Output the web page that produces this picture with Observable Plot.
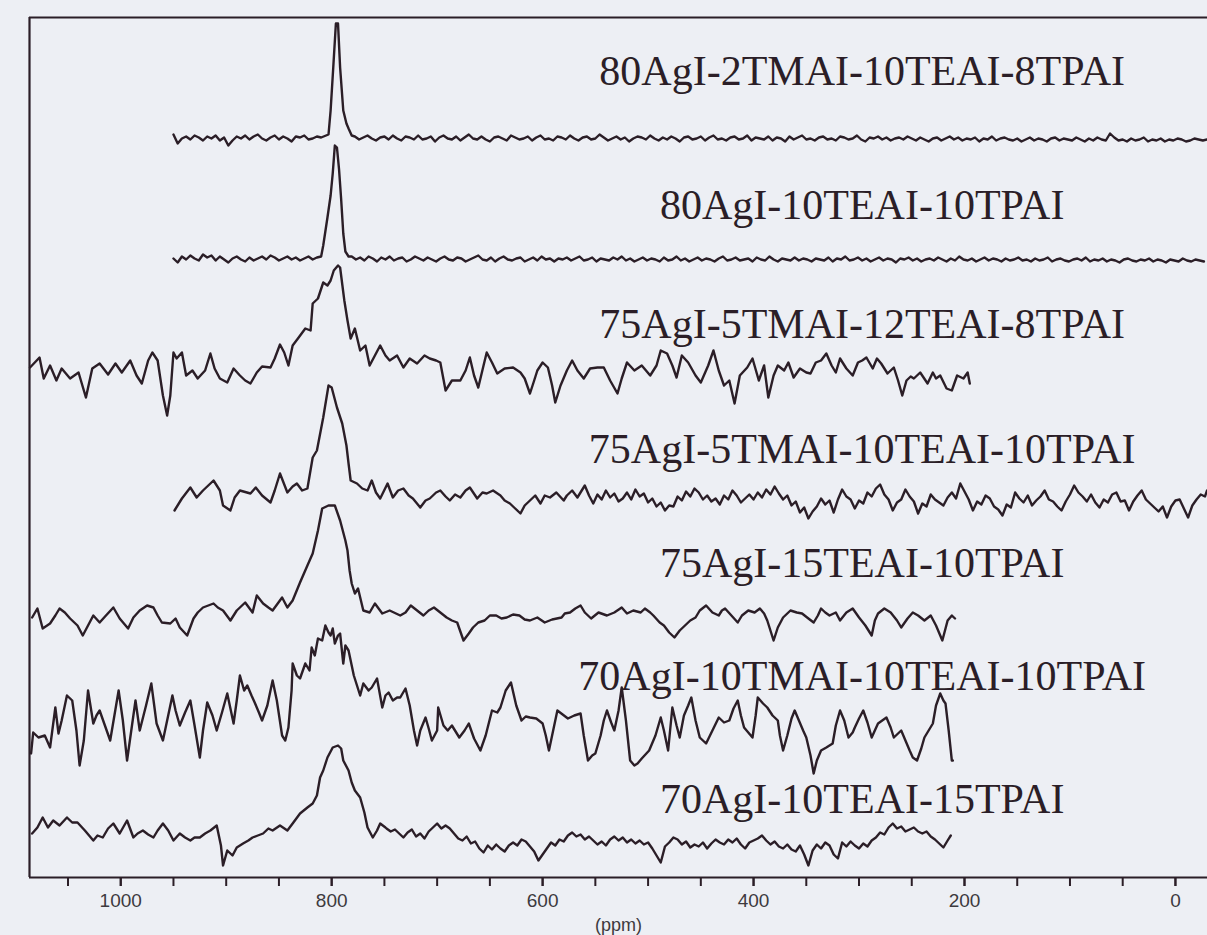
<!DOCTYPE html>
<html><head><meta charset="utf-8">
<script src="https://cdn.jsdelivr.net/npm/d3@7"></script>
<script src="https://cdn.jsdelivr.net/npm/@observablehq/plot@0.6"></script>
<style>
html,body{margin:0;padding:0;background:#edeff4;overflow:hidden}
#chart svg{display:block}
</style></head><body><div id="chart"></div>
<script>
// ---- data ----
const seriesNames = ["80AgI-2TMAI-10TEAI-8TPAI","80AgI-10TEAI-10TPAI","75AgI-5TMAI-12TEAI-8TPAI","75AgI-5TMAI-10TEAI-10TPAI","75AgI-15TEAI-10TPAI","70AgI-10TMAI-10TEAI-10TPAI","70AgI-10TEAI-15TPAI"];
const stackOffsets = [739, 618, 502, 380, 262, 157, 47];
const labelHeights = [806, 672, 553, 428, 314, 201, 78];
const labelPpm = 297;
const tickLabels = [1000, 800, 600, 400, 200, 0];
const tickMarks = [1050,1000,950,900,850,800,750,700,650,600,550,500,450,400,350,300,250,200,150,100,50,0];

// sampling positions (ppm): 4 ppm apart in the noise, finer across the narrow peaks
const s1Ppm = [...d3.range(950, 806, -4), 803, 801, 798.5, 796, 794, 792, 789, 786, 784, 781, ...d3.range(778, -31, -4)];
const s1Int = [4,-5,0,2,-1,3,1,-2,2,0, 3,-2,1,-7,-2,2,0,3,-1,2, 4,0,-2,1,3,-1,2,0,-3,2, 1,3,-1,0,2,1,
4,28,71,115,115,71,28,15,10,3,
2,-1,1,3,0,-2,1,2,-1,3, 0,-2,2,1,-1,3,-1,0,2,-3, 1,3,0,-1,2,-2,1,4,0,-1, 2,-1,-3,1,2,0,-2,3,1,-1, 0,2,-2,1,3,-1,0,-2,2,1,
-1,3,0,-2,1,2,-1,0,4,1, -2,0,2,-1,1,-3,0,2,1,-1, 3,0,-2,1,-1,2,0,-3,1,2, -1,0,2,-2,1,3,-1,0,-2,1, 2,-1,0,3,-2,1,0,-1,2,-2,
1,0,-3,2,-1,1,3,-1,0,-2, 1,2,-1,0,-2,2,1,-1,0,3, -1,-3,1,0,2,-1,1,-2,0,1, -1,2,0,-2,1,-1,-3,0,1,-2, 0,2,-1,1,-2,0,-1,1,-3,0,
-1,2,-2,0,1,-1,-2,0,-3,-1, 1,-2,0,-1,-3,0,1,-2,0,-1, -2,1,-1,-3,0,-2,1,-1,-2,5, 1,-2,-1,-3,0,-2,-1,1,-3,-1, -2,0,-3,-1,-2,0,-1,-3,-2,0,
-1,-2,-1];

const s2Ppm = [...d3.range(950, 808, -4), 808, 804, 801, 799, 797, 795, 793, 791, 789, 787, 784, 781, ...d3.range(777, -29, -4), -30];
const s2Int = [1,-3,3,0,4,1,-1,5,2,4, -1,3,0,-3,1,3,0,-2,2,-1, 1,3,0,4,2,-1,1,3,0,2, -1,1,3,0,2,
3,14,42,64,86,114,112,90,60,26,8,3,
3,0,2,-1,3,1,-2,2,0,3, -1,1,2,-2,0,3,1,-1,2,0, -2,1,3,0,-1,2,1,-2,0,2, 4,0,-1,2,-2,1,3,0,-1,1, 2,-2,0,2,-1,3,0,1,-2,1,
0,2,-1,1,3,-1,0,2,-2,1, 0,-1,2,0,3,-1,1,-2,0,2, -1,1,0,-2,2,-1,0,3,-1,1, -2,0,2,-1,1,0,-2,1,3,-1, 0,2,-1,0,1,-2,2,0,-1,3,
0,-2,1,0,-1,2,-1,1,0,-2, 1,0,-1,2,-2,1,0,3,-1,0, 2,-1,1,-2,0,2,-1,1,0,-3, 1,0,2,-1,1,-2,0,1,-1,2, 0,-2,1,-1,3,0,-1,1,-2,0,
2,-1,1,0,-2,1,-1,0,2,-1, 0,-2,1,-1,0,2,-2,0,1,-1, -2,0,1,-1,2,-2,0,-1,1,-2, 0,-1,-3,0,1,-1,-2,0,-1,1, -2,0,-1,-3,0,-1,-2,1,-1,-2,
0,-1,-2];

const s3Ppm = [1086,1077,1073,1067,1061,1056,1048,1040,1033,1027, 1020,1012,1005,999,991,985,980,974,970,965, 960,956,953,950,947,942,938,932,927,920, 915,911,906,899,893,887,882,877,871,866, 858,854,849,845,841,837,832,825,820,818, 813,808,804,801,798,794,792,788,785,782, 778,773,768,764,759,754,749,745,738,732, 726,719,712,707,701,697,692,686,678,673, 669,665,661,656,653,648,643,636,628,621, 617,612,608,605,600,595,591,588,583,577, 572,567,561,555,548,542,536,529,525,520, 513,506,498,492,488,482,477,473,468,462, 455,450,443,438,433,428,423,418,413,406, 401,395,390,386,381,377,371,367,362,356, 350,346,341,336,331,326,322,318,312,306, 301,297,293,287,283,279,273,267,263,259, 255,251,248,242,235,230,227,223,217,212, 207,201,197,195];
const s3Int = [8,18,-3,10,-5,7,-3,3,-22,7, 12,1,12,3,15,0,-8,15,23,15, -20,-40,-20,23,17,23,0,5,-3,5, 22,7,-3,-7,7,0,-5,-8,3,9, 8,17,31,23,10,30,37,47,45,72, 77,93,90,95,105,110,108,75,55,37, 47,25,30,10,20,30,20,15,20,8, 17,12,20,17,15,13,-15,-5,-5,5, 18,0,-12,10,23,13,2,7,8,3, -3,-18,-5,5,13,8,-10,-27,-10,5, 15,5,-3,7,8,8,-5,-18,-3,13, 5,10,0,10,25,22,10,-2,20,13, 0,-7,10,25,5,-10,-5,-28,0,8, 17,-5,10,-22,0,10,5,13,-2,7, 3,2,13,15,22,10,3,17,7,0, 13,15,18,7,17,12,2,8,-5,-20, -5,-1,-3,3,-8,3,-3,0,-13,-15, 0,-3,3,-8];

const s4Ppm = [949,942,934,928,922,912,906,903,896,892, 887,877,872,866,858,854,849,842,837,833, 828,823,818,814,808,803,800,795,790,786, 784,782,776,771,766,762,758,754,747,742, 737,732,727,723,716,711,707,701,697,692, 688,683,678,673,669,662,657,653,647,640, 636,631,626,621,617,612,607,602,598,593, 587,580,577,572,567, ...d3.range(560, -29, -4), -30];
const s4Int = [-13,-1,10,0,7,17,7,-8,-13,0, 7,4,10,2,-5,7,24,5,11,14, 7,9,40,47,80,112,110,90,74,52, 34,17,14,9,7,17,5,-1,14,0, 7,9,2,-1,-10,-3,-1,5,7,1, -3,3,0,7,10,-1,5,4,7,2, -3,-6,-11,-16,-8,-3,2,-6,2,0, 5,-3,2,7,0,
12,2,-6,3,-2,7,0,4,-4,-1, 5,-2,8,1,4,-5,-1,-9,-5,-13, -8,-9,1,-3,6,1,9,5,-2,2, -4,-1,-7,2,-2,7,2,-5,-1,3, -2,5,0,8,3,11,4,-2,2,-8,
-4,-15,-10,-21,-14,-9,-1,-7,-3,-15, -2,8,1,-2,-11,-3,-6,5,1,9, 13,3,-2,-13,-5,-2,8,1,-4,-16, -6,-9,3,-2,-5,-8,0,5,-1,14, 6,-2,-13,-4,-7,2,-1,-9,-12,-18,
-7,-10,5,-1,-5,2,-8,-3,1,7, -2,-4,-9,-13,-4,3,12,5,1,-4, 3,-5,-10,-2,-5,3,5,-4,-3,-13, -4,2,7,-2,-6,-10,-14,-9,-20,-9, -3,-2,-11,-20,-8,-2,3,1, 7];

const s5Ppm = [1084,1079,1074,1067,1062,1058,1053,1048,1041,1036, 1031,1026,1020,1014,1007,1001,993,988,982,975, 969,965,961,953,948,944,937,931,927,922, 912,908,903,896,890,882,875,871,865,860, 856,847,842,837,830,823,818,813,809,803, 797,792,787,785,783,781,778,775,770,764, 759,752,745,735,730,725,719,713,708,703, 697,691,686,681,675,670,666,661,655,650, 644,639,634,628,622,617,612,605,598,591, 582,579,574,569,564,560,554,547,539,532, 525,520,514,507,503,498,495,489,485,480, 475,470,467,460,455,451,445,439,433,430, 427,421,415,411,405,399,394,390,387,381, 377,372,365,359,354,348,343,339,336,332, 328,322,318,312,306,300,294,288,285,282, 276,270,264,260,254,249,244,238,232,227, 221,216,212,209];
const s5Int = [-2,7,-13,-8,0,7,3,-3,-10,-20, -10,0,-7,0,8,-3,-13,-2,5,10, 8,0,-7,-8,-3,-12,-20,-3,3,8, 12,8,5,-5,5,13,3,20,12,8, 5,18,8,15,33,50,62,85,107,110, 110,95,75,65,45,32,22,27,5,3, 12,2,5,0,3,10,5,0,5,8, 3,-2,-5,-7,-25,-18,-12,-7,-5,0, 0,-3,-2,1,0,-4,-5,-2,-7,-4, -2,2,3,7,10,3,-3,3,0,3, 8,2,5,3,7,3,0,-7,-10,-17, -22,-15,-12,-5,-2,5,10,3,0,5, 7,0,-7,0,5,3,7,2,-5,-25, -12,-2,5,3,2,-3,-7,0,7,3, 0,3,-5,3,7,-2,-10,-20,-5,2, 7,3,-5,-12,-3,3,0,-5,0,-10, -25,-5,0,-3];

const s6Ppm = [1085,1083,1078,1072,1067,1062,1059,1056,1051,1046, 1042,1039,1035,1031,1026,1023,1020,1015,1010,1006, 1002,998,994,990,986,982,976,971,966,960, 955,951,948,944,939,934,930,925,922,918, 913,909,904,899,893,890,887,883,880,876, 873,869,866,861,856,852,847,844,841,838, 837,833,830,825,821,819,816,813,809,806, 803,801,799,797,794,792,789,787,784,779, 773,770,765,762,757,752,749,746,742,738, 735,730,726,722,719,716,711,708,705,700, 699,694,690,686,679,674,670,665,659,654, 648,643,640,635,630,625,620,616,612,606, 600,597,594,590,586,581,576,570,564,561, 557,553,550,545,542,539,535,532,528,525, 521,517,513,510,506,499,493,488,485,481, 477,473,470,466,462,459,455,451,448,445, 439,433,428,423,419,415,412,409,405,401, 398,396,391,387,382,377,375,372,368,364, 361,357,353,350,346,343,340,336,331,325, 322,318,314,310,306,304,300,296,292,288, 285,282,278,274,270,267,263,260,256,252, 249,245,241,238,234,230,227,223,220,218, 215,212,211];
const s6Int = [-33,-12,-17,-15,-27,13,-13,0,25,20, -10,-45,-20,30,-3,5,10,-5,-20,5, 30,0,-40,-10,20,-10,15,37,-3,-20, 5,25,10,-5,8,20,-5,-37,-10,18, 5,-10,8,27,-3,20,45,30,35,25, 18,8,0,15,40,20,-15,-20,-7,30, 57,45,42,57,50,73,65,82,80,95, 88,85,92,77,85,87,57,75,70,45, 25,37,30,33,42,13,25,28,20,23, 23,32,15,-10,-25,-10,3,-8,-20,-10, 13,-5,-10,-5,-17,-10,-3,-18,-30,-15, 10,8,13,30,38,15,0,4,3,2, -3,-15,-30,-10,10,6,2,5,7,-15, -40,-35,-33,-15,0,10,-2,-10,10,33, 0,-40,-45,-43,-38,-30,-15,3,-10,-30, 13,-5,-17,5,15,23,0,-17,-20,-23, -10,3,-2,0,12,20,5,-7,-12,-17, 5,23,17,13,5,0,-15,-30,-15,2, 10,0,-10,-17,-35,-53,-40,-30,-27,-23, -5,10,0,-17,-12,-7,2,10,-2,-17, -10,-3,0,3,-7,-17,-13,-10,-20,-30, -37,-40,-28,-17,-10,-3,15,27,20,17, -10,-40,-40];

const s7Ppm = [1084,1079,1074,1069,1064,1058,1051,1046,1041,1034, 1026,1022,1017,1012,1007,1001,994,988,984,979, 974,969,965,960,955,950,944,939,934,930, 925,920,915,909,905,903,899,894,890,884, 879,875,870,865,860,856,849,842,837,830, 823,818,814,811,808,804,799,794,791,789, 784,781,778,773,769,766,761,757,754,749, ...d3.range(748, 215, -4), 213];
const s7Int = [-3,3,13,3,10,5,13,8,8,0, -10,-5,-7,2,7,-3,10,-7,-3,0, -4,-7,0,7,0,-10,-3,-7,-10,-7, -7,-3,0,5,-15,-35,-20,-25,-17,-13, -10,-7,-5,-3,2,0,5,0,7,17, 23,27,35,53,60,73,83,85,82,70, 60,48,40,33,18,3,-7,0,7,3,
2,-1,1,-3,-7,-2,1,-6,-3,-8, -1,3,7,2,5,2,-3,-8,-10,-6, -13,-11,-18,-22,-15,-19,-14,-18,-21,-15, -12,-15,-9,-11,-16,-21,-30,-24,-18,-12, -15,-9,-11,-5,-2,-6,-4,-9,-6,-10,
-14,-11,-15,-9,-6,-10,-7,-12,-9,-13, -10,-14,-12,-18,-25,-32,-16,-12,-7,-9, -14,-11,-17,-14,-16,-12,-18,-13,-9,-12, -14,-9,-12,-8,-14,-18,-12,-10,-8,-5, -10,-14,-11,-16,-18,-14,-19,-21,-15,-24,
-35,-20,-14,-18,-12,-15,-24,-28,-12,-16, -11,-15,-18,-13,-16,-10,-7,-2,-4,3, 7,2,4,-1,1,3,-1,-3,-1,-6, -9,-13,-17,-10, -5];

// ---- build rows ----
const ppmLists = [s1Ppm, s2Ppm, s3Ppm, s4Ppm, s5Ppm, s6Ppm, s7Ppm];
const intLists = [s1Int, s2Int, s3Int, s4Int, s5Int, s6Int, s7Int];
const rows = [];
seriesNames.forEach((name, k) => {
  const p = ppmLists[k], v = intLists[k];
  const n = Math.min(p.length, v.length);
  if (p.length !== v.length) console.warn(name, p.length, v.length);
  for (let i = 0; i < n; i++) rows.push({series: name, ppm: p[i], value: stackOffsets[k] + v[i]});
});
const labelRows = seriesNames.map((name, k) => ({label: name, ppm: labelPpm, h: labelHeights[k]}));

const ink = "#2b1e27";
const chart = Plot.plot({
  width: 1207, height: 935,
  marginLeft: 29, marginRight: 0, marginTop: 17, marginBottom: 58,
  x: {domain: [1086.5, -30.4], axis: null},
  y: {domain: [0, 860], axis: null},
  style: {background: "#edeff4", fontFamily: "'Liberation Sans', Arial, sans-serif", fontSize: "19px", color: ink},
  marks: [
    Plot.ruleY([0, 860], {stroke: ink, strokeWidth: 2.2}),
    Plot.ruleX([1086.5], {stroke: ink, strokeWidth: 2.2}),
    Plot.axisX(tickMarks, {tickSize: 9, tickFormat: () => "", label: null, stroke: ink, strokeWidth: 2}),
    Plot.axisX(tickLabels, {tickSize: 9, tickPadding: 7, tickFormat: d => String(d), label: null, stroke: ink, strokeWidth: 2, fill: "#3d3a3e", fontSize: 19}),
    Plot.line(rows, {x: "ppm", y: "value", z: "series", stroke: ink, strokeWidth: 2.4, strokeLinejoin: "round"}),
    Plot.text(labelRows, {x: "ppm", y: "h", text: "label", textAnchor: "middle", lineAnchor: "middle", fontFamily: "'Liberation Serif', 'Times New Roman', serif", fontSize: 42, fill: ink}),
    Plot.text(["(ppm)"], {frameAnchor: "bottom", dy: 48, text: d => d, lineAnchor: "middle", fontSize: 18, fill: "#3d3a3e"})
  ]
});
document.getElementById("chart").appendChild(chart);
</script>
</body></html>
